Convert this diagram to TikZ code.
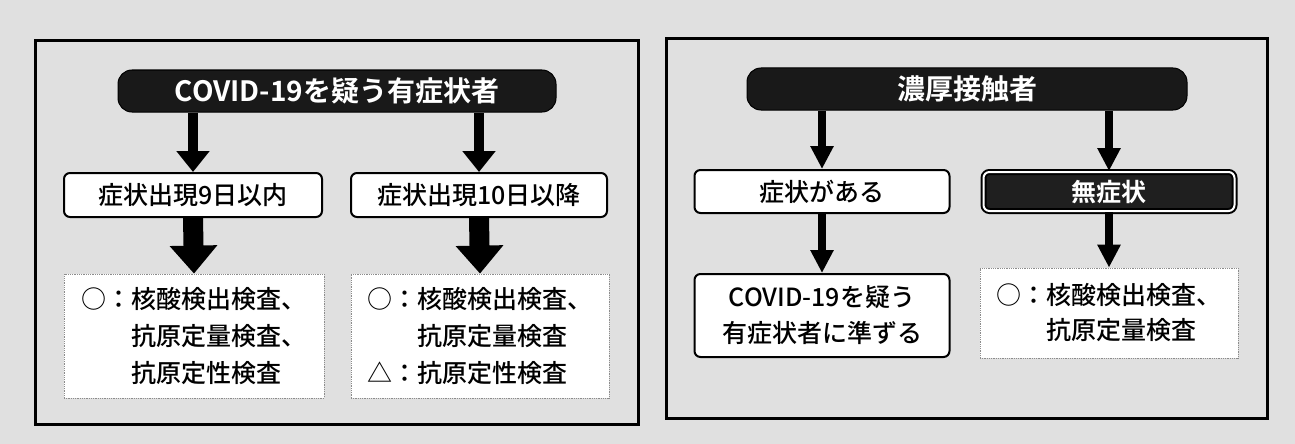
\documentclass[tikz,border=0pt]{standalone}
\usepackage{fontspec}
\setmainfont{Noto Sans CJK JP}[UprightFont=* Medium,BoldFont=* Bold]
\usetikzlibrary{arrows.meta,calc}
\tikzset{
  panel/.style={draw=black,line width=3pt,fill=black!12},
  pill/.style={rounded corners=14pt,fill=black!90,draw=black,line width=1pt,text=white,
     font=\fontsize{28pt}{30pt}\selectfont\bfseries,inner sep=0pt},
  wbox/.style={rounded corners=6pt,fill=white,draw=black,line width=2pt,
     font=\fontsize{25pt}{36pt}\selectfont,inner sep=0pt,align=center},
  dbox/.style={rounded corners=6pt,fill=black!88,draw=black,line width=2pt,double=white,
     double distance=2pt,text=white,font=\fontsize{25pt}{30pt}\selectfont\bfseries,inner sep=0pt},
  rbox/.style={fill=white,draw=black!45,densely dotted,line width=0.8pt,inner sep=0pt},
  rtext/.style={font=\fontsize{25pt}{37pt}\selectfont,align=left,inner sep=0pt},
  thinarr/.style={line width=10pt,-{Triangle[width=32pt,length=21pt]}},
  thinarrR/.style={line width=8pt,-{Triangle[width=22pt,length=23pt]}},
  thickarr/.style={line width=20pt,-{Triangle[width=46pt,length=28pt]}},
}
\begin{document}
\begin{tikzpicture}[x=1pt,y=-1pt]
\useasboundingbox (0,0) rectangle (1295,444);
\fill[black!12] (0,0) rectangle (1295,444);
% panels
\draw[panel] (35,41) rectangle (638,424);
\draw[panel] (666,39) rectangle (1267,418);
% left panel
\node[pill,minimum width=438pt,minimum height=42pt] (pl) at (337,91) {COVID-19を疑う有症状者};
\node[wbox,minimum width=258pt,minimum height=44pt] (a1) at (193,195) {症状出現9日以内};
\node[wbox,minimum width=256pt,minimum height=44pt] (a2) at (479,195) {症状出現10日以降};
\node[rbox,minimum width=260pt,minimum height=124pt] (r1) at (194,336) {};
\node[rbox,minimum width=258pt,minimum height=124pt] (r2) at (480,336) {};
\node[rtext] (t1) at (r1.center) {○：核酸検出検査、\\\phantom{○：}抗原定量検査、\\\phantom{○：}抗原定性検査};
\node[rtext] (t2) at (r2.center) {○：核酸検出検査、\\\phantom{○：}抗原定量検査\\△：抗原定性検査};
\draw[thinarr] (a1.north |- pl.south) -- (a1.north);
\draw[thinarr] (a2.north |- pl.south) -- (a2.north);
\draw[thickarr] (a1.south) -- (r1.north);
\draw[thickarr] (a2.south) -- (r2.north);
% right panel
\node[pill,minimum width=440pt,minimum height=42pt] (pr) at (967,89) {濃厚接触者};
\node[wbox,minimum width=255pt,minimum height=43pt] (b1) at (822,191.5) {症状がある};
\node[dbox,minimum width=251pt,minimum height=39pt] (b2) at (1109,191.5) {無症状};
\node[wbox,minimum width=255pt,minimum height=83pt] (c1) at (822,315.5) {COVID-19を疑う\\有症状者に準ずる};
\node[rbox,minimum width=258pt,minimum height=90pt] (c2) at (1109,313) {};
\node[rtext,font=\fontsize{25pt}{35pt}\selectfont] (t3) at (c2.center) {○：核酸検出検査、\\\phantom{○：}抗原定量検査};
\draw[thinarrR] (b1.north |- pr.south) -- (b1.north);
\draw[thinarrR] (b2.north |- pr.south) -- (b2.north);
\draw[thinarrR] (b1.south) -- (c1.north);
\draw[thinarrR] (b2.south) -- (c2.north);
\end{tikzpicture}
\end{document}
